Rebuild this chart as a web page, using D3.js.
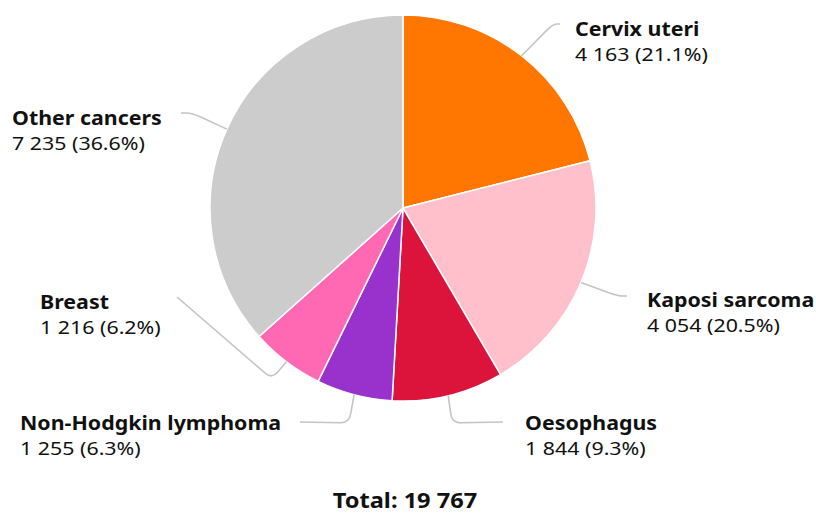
<!DOCTYPE html>
<meta charset="utf-8">
<script src="https://cdn.jsdelivr.net/npm/d3@7"></script>
<head>
<style>
    body { margin: 0; background: #fff; }
    text { font-family: "Noto Sans", sans-serif; fill: #111; }
</style>
</head>
<body>
<script>

    // data
    var cancers = ["Cervix uteri", "Kaposi sarcoma", "Oesophagus", "Non-Hodgkin lymphoma", "Breast", "Other cancers"];
    var cases = [4163, 4054, 1844, 1255, 1216, 7235];
    var colours = ["#ff7700", "#ffc0cb", "#dc143c", "#9932cc", "#ff69b4", "#cccccc"];

    var width = 816;
    var height = 513;

    var cx = 403;
    var cy = 208;
    var radius = 193;

    // the type in the reference is a little wide
    var stretch = 1.125;

    // label layout: text anchor (x, baseline of first line), leader elbow and end
    var labelPos = [
        {x: 575, y: 36,  elbow: [553, 24],  end: [560, 24]},
        {x: 647, y: 307, elbow: [618, 296], end: [627, 296]},
        {x: 525, y: 430, elbow: [452, 423], end: [503, 422]},
        {x: 20,  y: 430, elbow: [349, 423], end: [300, 422]},
        {x: 40,  y: 309, elbow: [272, 379], end: [177, 297]},
        {x: 12,  y: 125, elbow: [192, 113], end: [181, 113]}
    ];

    var total = d3.sum(cases);
    var fmt = function(n) { return d3.format(",")(n).replace(/,/g, " "); };
    var pct = d3.format(".1%");

    var svg = d3.select("body").append("svg")
        .attr("width", width)
        .attr("height", height);

    var pie = d3.pie().sort(null).value(function(d) { return d; });
    var arcs = pie(cases);

    var arc = d3.arc().innerRadius(0).outerRadius(radius);

    var g = svg.append("g")
        .attr("transform", "translate(" + cx + "," + cy + ")");

    g.selectAll(".slice")
        .data(arcs)
        .enter()
        .append("path")
        .attr("class", "slice")
        .attr("d", arc)
        .style("fill", function(d, i) { return colours[i]; })
        .style("stroke", "#fff")
        .style("stroke-width", 1.5);

    // leader path with a rounded corner at the elbow
    function leader(p0, p1, p2) {
        var r = 9;
        function towards(a, b, t) {
            var dx = b[0] - a[0], dy = b[1] - a[1];
            var l = Math.sqrt(dx*dx + dy*dy);
            var k = Math.min(t, l/2) / l;
            return [a[0] + dx*k, a[1] + dy*k];
        }
        var a = towards(p1, p0, r);
        var b = towards(p1, p2, r);
        return "M" + p0 + "L" + a + "Q" + p1 + " " + b + "L" + p2;
    }

    svg.selectAll(".leader")
        .data(arcs)
        .enter()
        .append("path")
        .attr("class", "leader")
        .attr("d", function(d, i) {
            var mid = (d.startAngle + d.endAngle) / 2;
            var edge = [cx + radius*Math.sin(mid), cy - radius*Math.cos(mid)];
            return leader(edge, labelPos[i].elbow, labelPos[i].end);
        })
        .style("fill", "none")
        .style("stroke", "#c4c4c4")
        .style("stroke-width", 1.6);

    var labels = svg.selectAll(".lbl")
        .data(arcs)
        .enter()
        .append("text")
        .attr("class", "lbl")
        .attr("transform", function(d, i) {
            return "translate(" + labelPos[i].x + "," + labelPos[i].y + ") scale(" + stretch + ",1)";
        })
        .style("font-size", "19px");

    labels.append("tspan")
        .attr("x", 0)
        .style("font-weight", "bold")
        .text(function(d, i) { return cancers[i]; });

    labels.append("tspan")
        .attr("x", 0)
        .attr("dy", 25.5)
        .text(function(d) { return fmt(d.data) + " (" + pct(d.data / total) + ")"; });

    svg.append("text")
        .attr("transform", "translate(405,508) scale(1.15,1)")
        .attr("text-anchor", "middle")
        .style("font-size", "20.5px")
        .style("font-weight", "bold")
        .text("Total: " + fmt(total));

</script>
</body>
</html>
